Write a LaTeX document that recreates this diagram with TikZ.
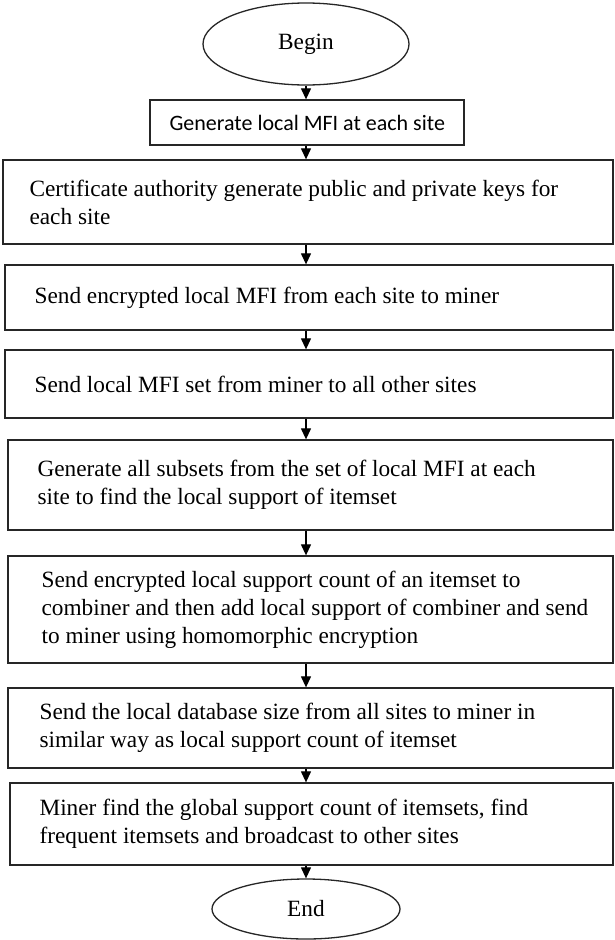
\documentclass[tikz,border=0pt]{standalone}
\usepackage{fontspec}
\setmainfont{Liberation Serif}
\newfontfamily\boxsans{Carlito}
\usetikzlibrary{shapes.geometric,arrows.meta,calc}
\begin{document}
\begin{tikzpicture}[x=1pt,y=-1pt,
  stepbox/.style={draw=black!85, line width=1.3pt, rectangle, inner sep=0pt},
  terminal/.style={draw=black!85, line width=1.3pt, ellipse, inner sep=0pt},
  steptext/.style={font=\fontsize{23.3}{28}\selectfont, align=left, inner sep=0pt, anchor=west},
  flow/.style={draw=black, line width=1.2pt, -{Triangle[length=11pt,width=10pt]}}]
\useasboundingbox[fill=white] (0,0) rectangle (615,940);

% start / end terminals
\node[terminal, minimum width=206pt, minimum height=82pt] (begin) at (306,44)
  {\fontsize{23.3}{28}\selectfont Begin};
\node[terminal, minimum width=188pt, minimum height=60pt] (end) at (306,909)
  {\fontsize{23.3}{28}\selectfont End};

% process steps
\node[stepbox, minimum width=314pt, minimum height=45pt] (b1) at (307,122.5) {};
\node[stepbox, minimum width=610pt, minimum height=84pt] (b2) at (308,202) {};
\node[stepbox, minimum width=608pt, minimum height=65pt] (b3) at (309,297.5) {};
\node[stepbox, minimum width=608pt, minimum height=68pt] (b4) at (309,384) {};
\node[stepbox, minimum width=605pt, minimum height=90pt] (b5) at (310.5,485) {};
\node[stepbox, minimum width=605pt, minimum height=107pt] (b6) at (310.5,609.5) {};
\node[stepbox, minimum width=605pt, minimum height=80pt] (b7) at (310.5,728) {};
\node[stepbox, minimum width=603pt, minimum height=82pt] (b8) at (311.5,824) {};

\node[steptext, font=\boxsans\fontsize{22}{28}\selectfont] (t1) at ($(b1.west)+(20,0)$)
  {Generate local MFI at each site};
\node[steptext] (t2) at ($(b2.west)+(27,0)$)
  {Certificate authority generate public and private keys for\\each site};
\node[steptext] (t3) at ($(b3.west)+(30,0)$)
  {Send encrypted local MFI from each site to miner};
\node[steptext] (t4) at ($(b4.west)+(30,0)$)
  {Send local MFI set from miner to all other sites};
\node[steptext] (t5) at ($(b5.west)+(30,0)$)
  {Generate all subsets from the set of local MFI at each\\site to find the local support of itemset};
\node[steptext] (t6) at ($(b6.west)+(34,0)$)
  {Send encrypted local support count of an itemset to\\combiner and then add local support of combiner and send\\to miner using homomorphic encryption};
\node[steptext] (t7) at ($(b7.west)+(32,0)$)
  {Send the local database size from all sites to miner in\\similar way as local support count of itemset};
\node[steptext] (t8) at ($(b8.west)+(30,0)$)
  {Miner find the global support count of itemsets, find\\frequent itemsets and broadcast to other sites};

% connectors along the centre line
\draw[flow] (begin.south) -- (b1.north -| begin.south);
\draw[flow] (b1.south -| begin.south) -- (b2.north -| begin.south);
\draw[flow] (b2.south -| begin.south) -- (b3.north -| begin.south);
\draw[flow] (b3.south -| begin.south) -- (b4.north -| begin.south);
\draw[flow] (b4.south -| begin.south) -- (b5.north -| begin.south);
\draw[flow] (b5.south -| begin.south) -- (b6.north -| begin.south);
\draw[flow] (b6.south -| begin.south) -- (b7.north -| begin.south);
\draw[flow] (b7.south -| begin.south) -- (b8.north -| begin.south);
\draw[flow] (b8.south -| begin.south) -- (end.north);
\end{tikzpicture}
\end{document}
